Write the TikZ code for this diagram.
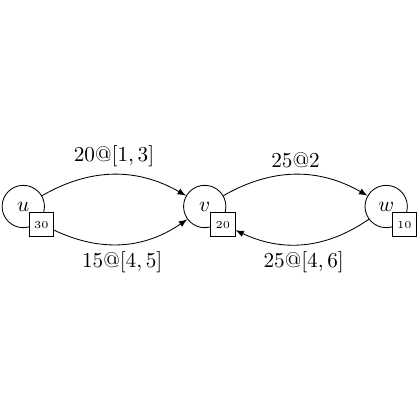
\documentclass[tikz,border=0pt]{standalone}
\usetikzlibrary{calc}
\begin{document}
\begin{tikzpicture}[ville/.style={draw,circle,minimum size=0.7cm,inner sep=0pt},
	poids/.style={draw,fill=white,minimum size=0.4cm,inner sep=0pt,font=\tiny}]
\useasboundingbox (-0.385,-3.53) rectangle (6.557,3.414);

% Sommets
\node[ville] (u) at (0,0) {$u$};
\node[ville] (v) at (3,0) {$v$};
\node[ville] (w) at (6,0) {$w$};

% Stocks
\node[poids] (bu) at ($(u)+(0.3,-0.3)$) {30};
\node[poids] (bv) at ($(v)+(0.3,-0.3)$) {20};
\node[poids] (bw) at ($(w)+(0.3,-0.3)$) {10};

% u -> v
\draw [-latex](u) to[bend left=30] node[above]{$20@[1,3]$} (v);
\draw [-latex](bu) to[bend right=30] node[below]{$15@[4,5]$} (v);

% v -> w
\draw [-latex](v) to[bend left=30] node[above]{$25@2$} (w);

% w -> v
\draw [-latex](w) to[bend left=30] node[below]{$25@[4,6]$} (bv);

\end{tikzpicture}
\end{document}
